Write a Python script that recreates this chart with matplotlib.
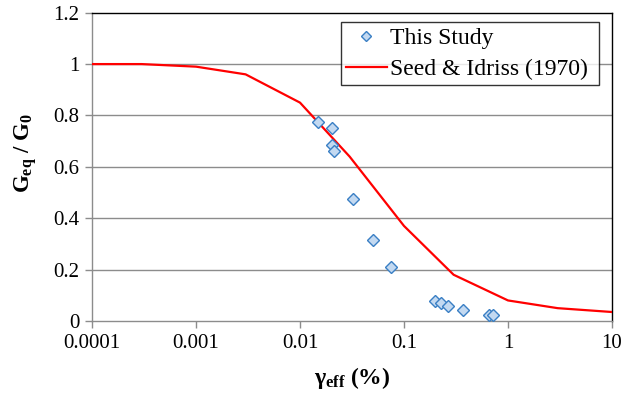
import matplotlib
matplotlib.use("Agg")
import matplotlib.pyplot as plt
from matplotlib.ticker import FixedLocator, FixedFormatter

plt.rcParams['font.family'] = ['Liberation Serif', 'DejaVu Serif']
plt.rcParams['mathtext.fontset'] = 'custom'
plt.rcParams['mathtext.rm'] = 'Liberation Serif'
plt.rcParams['mathtext.it'] = 'Liberation Serif:italic'
plt.rcParams['mathtext.bf'] = 'Liberation Serif:bold'

# Data
study_strain = [0.0150, 0.0202, 0.0202, 0.0211, 0.0323, 0.0507, 0.0755,
                0.197, 0.225, 0.262, 0.373, 0.656, 0.718]
study_ratio = [0.773, 0.750, 0.686, 0.660, 0.473, 0.315, 0.210,
               0.078, 0.069, 0.058, 0.042, 0.023, 0.023]

seed_strain = [0.0001, 0.0003, 0.001, 0.003, 0.01, 0.03, 0.1, 0.3, 1, 3, 10]
seed_ratio = [1.0, 1.0, 0.99, 0.96, 0.85, 0.64, 0.37, 0.18, 0.08, 0.05, 0.035]

x_ticks = [0.0001, 0.001, 0.01, 0.1, 1, 10]
x_ticklabels = ["0.0001", "0.001", "0.01", "0.1", "1", "10"]
y_ticks = [0, 0.2, 0.4, 0.6, 0.8, 1.0, 1.2]
y_ticklabels = ["0", "0.2", "0.4", "0.6", "0.8", "1", "1.2"]

W, H = 623, 395
fig = plt.figure(figsize=(W / 100, H / 100), dpi=100)
L, R, T, B = 92, 612, 12.7, 321
ax = fig.add_axes([L / W, 1 - B / H, (R - L) / W, (B - T) / H])

grid_color = '#8c8c8c'
for yv in y_ticks[1:-1]:
    ax.axhline(yv, color=grid_color, lw=1.0, zorder=1)

ax.plot(seed_strain, seed_ratio, color='#ff0000', lw=1.6, zorder=3,
        label='Seed & Idriss (1970) ')
ax.plot(study_strain, study_ratio, linestyle='none', marker='D', ms=6.2,
        markerfacecolor='#c3d9f1', markeredgecolor='#3a7fc4', markeredgewidth=1.0,
        zorder=4, label='This Study')

ax.set_xscale('log')
ax.set_xlim(0.0001, 10)
ax.set_ylim(0, 1.2)
ax.xaxis.set_major_locator(FixedLocator(x_ticks))
ax.xaxis.set_major_formatter(FixedFormatter(x_ticklabels))
ax.xaxis.set_minor_locator(FixedLocator([]))
ax.yaxis.set_major_locator(FixedLocator(y_ticks))
ax.yaxis.set_major_formatter(FixedFormatter(y_ticklabels))

ax.tick_params(axis='both', direction='out', length=5, width=1, color=grid_color,
               labelsize=15, pad=4)
ax.spines['left'].set_color(grid_color)
ax.spines['bottom'].set_color(grid_color)
ax.spines['top'].set_color('black')
ax.spines['right'].set_color('black')
for s in ax.spines.values():
    s.set_linewidth(1.0)

ax.set_xlabel(r'$\mathbf{\gamma_{eff}}$' + ' (%)', fontsize=17, fontweight='bold', labelpad=9)
ax.set_ylabel(r'$\mathbf{G_{eq}}$' + ' / ' + r'$\mathbf{G_0}$', fontsize=16.5,
              fontweight='bold', labelpad=10)
ax.yaxis.label.set_y(0.545)

handles, labels = ax.get_legend_handles_labels()
leg = ax.legend(handles[::-1], labels[::-1], loc='upper right',
                bbox_to_anchor=(599 / W, 1 - 22.3 / H), bbox_transform=fig.transFigure,
                fontsize=17, frameon=True, fancybox=False, borderaxespad=0,
                handlelength=1.7, handletextpad=0.15, labelspacing=0.4,
                borderpad=0.22, markerscale=0.8)
leg.get_frame().set_edgecolor('black')
leg.get_frame().set_linewidth(1.0)

fig.savefig('out.png', dpi=100)
